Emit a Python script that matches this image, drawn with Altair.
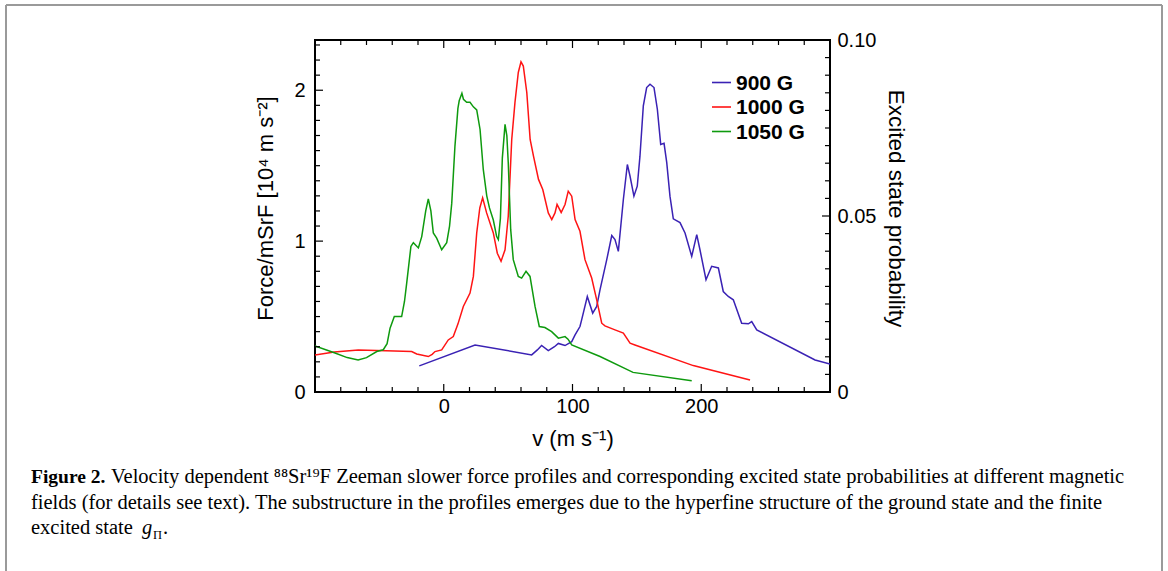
import altair as alt
import pandas as pd

# ---------------- data ----------------
v_900 = [-19, 24.3, 68.3, 72.7, 76, 81.2, 86, 89, 94.2, 99.4, 102, 105.8, 107.1, 111.5, 115.7,
         118.8, 121.4, 126.6, 130.5, 133, 135.6, 139.5, 142.6, 144.7, 147.7, 150.3, 152.4, 155,
         157.6, 160.2, 163.3, 165.9, 168.5, 171.1, 173.2, 175.7, 178.3, 183.5, 187.4, 192.6,
         196.5, 199, 203.7, 208.1, 213.3, 217.1, 221, 224.9, 231.4, 236.6, 239.2, 243.1, 288.4, 300]
f_900 = [0.173, 0.312, 0.246, 0.279, 0.308, 0.274, 0.30, 0.322, 0.308, 0.334, 0.379, 0.434, 0.478,
         0.633, 0.523, 0.567, 0.678, 0.877, 1.037, 1.01, 0.932, 1.276, 1.508, 1.43, 1.298, 1.364,
         1.563, 1.896, 2.018, 2.04, 2.018, 1.874, 1.641, 1.648, 1.52, 1.298, 1.148, 1.123, 1.054,
         0.899, 1.043, 0.943, 0.744, 0.833, 0.822, 0.666, 0.633, 0.611, 0.456, 0.452, 0.467, 0.412,
         0.212, 0.186]

v_1000 = [-100, -85, -66.4, -45, -24.9, -21, -12, -9, -6.8, -1.6, 3.5, 7.4, 11, 15.2, 20.4, 23,
          25.6, 28, 30.2, 33.3, 38.5, 41.6, 44.5, 47.6, 50.1, 52.8, 55.3, 57.9, 60, 61.8, 64.5,
          67.1, 69.7, 73.6, 76.9, 81.2, 83.9, 86.4, 88, 91.2, 94.2, 96.7, 99.4, 102, 105.8, 109.7,
          114.9, 118.8, 122.7, 125.2, 133, 139.5, 144.7, 148.5, 193.8, 237.9]
f_1000 = [0.246, 0.265, 0.279, 0.274, 0.268, 0.252, 0.235, 0.25, 0.268, 0.279, 0.345, 0.367, 0.45,
          0.567, 0.656, 0.766, 1.054, 1.22, 1.287, 1.187, 1.054, 0.92, 0.866, 0.943, 1.165, 1.674,
          1.918, 2.118, 2.188, 2.16, 1.985, 1.674, 1.563, 1.409, 1.342, 1.187, 1.143, 1.187, 1.243,
          1.19, 1.243, 1.331, 1.298, 1.143, 1.065, 0.877, 0.755, 0.611, 0.456, 0.438, 0.412, 0.39,
          0.324, 0.312, 0.175, 0.080]

v_1050 = [-100, -85, -75, -66.5, -60, -52, -47, -44, -41.7, -38.4, -32.7, -30.5, -28.8, -25.5,
          -23.6, -19.7, -17.1, -14, -12, -10, -8.1, -5.5, -1.6, 2.3, 4.5, 6.2, 8.7, 11, 12, 14.1,
          15.3, 17.8, 20.4, 23, 25.6, 28.2, 30.7, 33.4, 35.5, 38.5, 41.1, 42.4, 44, 45.5, 47.6, 49,
          50.1, 52, 54, 57.9, 60.5, 63.9, 67, 70.9, 74.2, 78.6, 83.8, 89, 94.2, 96.5, 99.4, 121.4,
          147, 192.6]
f_1050 = [0.306, 0.26, 0.228, 0.213, 0.228, 0.268, 0.28, 0.32, 0.423, 0.50, 0.50, 0.60, 0.72, 0.965,
          0.99, 0.955, 1.03, 1.2, 1.28, 1.2, 1.054, 1.02, 0.943, 0.99, 1.10, 1.25, 1.63, 1.88, 1.93,
          1.98, 1.94, 1.92, 1.92, 1.89, 1.87, 1.74, 1.475, 1.30, 1.22, 1.14, 1.03, 1.01, 1.15, 1.55,
          1.774, 1.70, 1.52, 1.076, 0.877, 0.766, 0.755, 0.80, 0.766, 0.567, 0.434, 0.427, 0.40,
          0.357, 0.367, 0.35, 0.312, 0.235, 0.13, 0.075]

series_names = ["900 G", "1000 G", "1050 G"]
series_colors = ["#3a22b4", "#ff1414", "#0e9a0e"]

x_labels = [0, 100, 200]
y_left_labels = [0, 1, 2]
y_right_labels = [0, 0.05, 0.10]

x_title = "v (m s\u207b\u00b9)"
y_left_title = "Force/mSrF [10\u2074 m s\u207b\u00b2]"
y_right_title = "Excited state probability"

caption_bold = "Figure 2."
caption_lines = [
    "Velocity dependent  \u2078\u2078Sr\u00b9\u2079F Zeeman slower force profiles and corresponding excited state probabilities at different magnetic",
    "fields (for details see text). The substructure in the profiles emerges due to the hyperfine structure of the ground state and the finite",
    "excited state ",
]

# ---------------- layout ----------------
W, H = 515, 352
PAD_L, PAD_T = 315, 40
X_DOM = [-100, 300]
YL_DOM = [0, 2.333]
YR_DOM = [0, 0.10]

rows = []
for name, vs, fs in [("900 G", v_900, f_900), ("1000 G", v_1000, f_1000), ("1050 G", v_1050, f_1050)]:
    for v, f in zip(vs, fs):
        rows.append({"v": v, "f": f, "series": name})
df = pd.DataFrame(rows)

xscale = alt.Scale(domain=X_DOM, nice=False, zero=False)
ylscale = alt.Scale(domain=YL_DOM, nice=False, zero=False)
yrscale = alt.Scale(domain=YR_DOM, nice=False, zero=False)

x_axis = alt.Axis(values=x_labels, ticks=False, domain=False, grid=False, labelFontSize=20,
                  labelPadding=4, title=x_title, titleFontSize=22, titleFontWeight="normal",
                  titleX=W / 2, titleY=46, titleAlign="center", titleBaseline="middle")
yl_axis = alt.Axis(values=y_left_labels, ticks=False, domain=False, grid=False, labelFontSize=20,
                   labelPadding=10, title=y_left_title, titleFontSize=22, titleFontWeight="normal",
                   titleAngle=-90, titleX=-50, titleY=168, titleAlign="center", titleBaseline="middle")
yr_axis = alt.Axis(orient="right", values=y_right_labels, ticks=False, domain=False, grid=False,
                   labelFontSize=20, labelPadding=7,
                   labelExpr="datum.value == 0 ? '0' : format(datum.value, '.2f')",
                   title=y_right_title, titleFontSize=22.5, titleFontWeight="normal",
                   titleAngle=90, titleX=65, titleY=168, titleAlign="center", titleBaseline="middle")

lines = alt.Chart(df).mark_line(strokeWidth=1.5, interpolate="linear", clip=True).encode(
    x=alt.X("v:Q", scale=xscale, axis=x_axis),
    y=alt.Y("f:Q", scale=ylscale, axis=yl_axis),
    color=alt.Color("series:N", scale=alt.Scale(domain=series_names, range=series_colors), legend=None),
    detail="series:N",
)

# tick positions (axis decoration)
yl_minor = [round(i * 0.1, 1) for i in range(1, 24) if i not in (10, 20)]
yl_major = [1, 2]
yr_minor = [round(i * 0.005, 3) for i in range(1, 20) if i != 10]
yr_major = [0.05]
x_minor = [t for t in range(-80, 300, 20) if t % 100 != 0]
x_major = [0, 100, 200]

def rule_src(vals):
    return alt.Chart(pd.DataFrame({"t": vals}))

tick_style = dict(color="black", strokeWidth=1.2)
layers = [lines]
for vals, ln in [(yl_minor, 5), (yl_major, 8)]:
    layers.append(rule_src(vals).mark_rule(**tick_style).encode(
        y=alt.Y("t:Q", scale=ylscale, axis=None), x=alt.value(0), x2=alt.value(ln)))
for vals, ln in [(x_minor, 5), (x_major, 8)]:
    layers.append(rule_src(vals).mark_rule(**tick_style).encode(
        x=alt.X("t:Q", scale=xscale, axis=x_axis), y=alt.value(H), y2=alt.value(H - ln)))
    layers.append(rule_src(vals).mark_rule(**tick_style).encode(
        x=alt.X("t:Q", scale=xscale, axis=x_axis), y=alt.value(0), y2=alt.value(ln)))
layers.append(rule_src(yr_minor).mark_rule(**tick_style).encode(
    y=alt.Y("t:Q", scale=yrscale, axis=yr_axis), x=alt.value(W), x2=alt.value(W - 5)))
layers.append(rule_src(yr_major).mark_rule(**tick_style).encode(
    y=alt.Y("t:Q", scale=yrscale, axis=None), x=alt.value(W), x2=alt.value(W - 8)))

one = alt.Chart(pd.DataFrame({"a": [0]}))

# legend (manual)
for i, (name, col) in enumerate(zip(series_names, series_colors)):
    yy = 42.5 + 24.5 * i
    layers.append(one.mark_rule(color=col, strokeWidth=1.6).encode(
        x=alt.value(397), x2=alt.value(416), y=alt.value(yy)))
    layers.append(one.mark_text(text=name, font="Liberation Sans", fontSize=21, fontWeight="bold",
                                align="left", baseline="middle", color="black").encode(
        x=alt.value(421), y=alt.value(yy + 1)))

# outer frame of the figure (light grey)
frame_col = "#9a9a9a"
layers.append(one.mark_rule(color=frame_col, strokeWidth=2).encode(
    x=alt.value(6 - PAD_L), x2=alt.value(6 - PAD_L), y=alt.value(5 - PAD_T), y2=alt.value(571 - PAD_T)))
layers.append(one.mark_rule(color=frame_col, strokeWidth=2).encode(
    x=alt.value(1162 - PAD_L), x2=alt.value(1162 - PAD_L), y=alt.value(5 - PAD_T), y2=alt.value(571 - PAD_T)))
layers.append(one.mark_rule(color=frame_col, strokeWidth=2).encode(
    x=alt.value(6 - PAD_L), x2=alt.value(1162 - PAD_L), y=alt.value(5 - PAD_T), y2=alt.value(5 - PAD_T)))

# caption
cap_font = "Liberation Serif"
cap_size = 20.5
cap_x0 = 31 - PAD_L
base1 = 483 - PAD_T
lh = 25.5
layers.append(one.mark_text(text=caption_bold, font=cap_font, fontSize=19.5, fontWeight="bold",
                            align="left", baseline="alphabetic", color="black").encode(
    x=alt.value(cap_x0), y=alt.value(base1)))
layers.append(one.mark_text(text=caption_lines[0], font=cap_font, fontSize=cap_size,
                            align="left", baseline="alphabetic", color="black").encode(
    x=alt.value(111 - PAD_L), y=alt.value(base1)))
layers.append(one.mark_text(text=caption_lines[1], font=cap_font, fontSize=cap_size,
                            align="left", baseline="alphabetic", color="black").encode(
    x=alt.value(cap_x0), y=alt.value(base1 + lh)))
layers.append(one.mark_text(text=caption_lines[2], font=cap_font, fontSize=cap_size,
                            align="left", baseline="alphabetic", color="black").encode(
    x=alt.value(cap_x0), y=alt.value(base1 + 2 * lh)))
layers.append(one.mark_text(text="g", font=cap_font, fontSize=cap_size, fontStyle="italic",
                            align="left", baseline="alphabetic", color="black").encode(
    x=alt.value(142 - PAD_L), y=alt.value(base1 + 2 * lh)))
layers.append(one.mark_text(text="\u03a0", font=cap_font, fontSize=12.5,
                            align="left", baseline="alphabetic", color="black").encode(
    x=alt.value(153 - PAD_L), y=alt.value(base1 + 2 * lh + 5)))
layers.append(one.mark_text(text=".", font=cap_font, fontSize=cap_size,
                            align="left", baseline="alphabetic", color="black").encode(
    x=alt.value(163 - PAD_L), y=alt.value(base1 + 2 * lh)))

chart = alt.layer(*layers).resolve_scale(y="independent").properties(
    width=W, height=H,
    padding={"left": PAD_L, "top": PAD_T, "right": 1168 - PAD_L - W, "bottom": 571 - PAD_T - H},
    autosize=alt.AutoSizeParams(type="none"),
    background="white",
).configure_view(stroke="black", strokeWidth=2).configure_axis(
    labelFont="Liberation Sans", titleFont="Liberation Sans", labelColor="black", titleColor="black"
)

chart.save("out.html", embed_options={"renderer": "svg", "actions": False})
